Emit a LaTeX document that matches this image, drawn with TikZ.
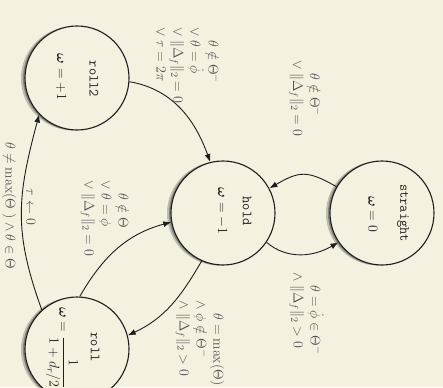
\RequirePackage{fix-cm}
\documentclass[tikz,border=0pt]{standalone}
\usepackage{amsmath,amssymb,bm}
\usetikzlibrary{arrows.meta}
\definecolor{paper}{RGB}{244,241,224}
\definecolor{ink}{RGB}{30,30,30}
\definecolor{note}{RGB}{80,80,80}
\begin{document}
\begin{tikzpicture}[x=1pt,y=1pt,
  state/.style={circle, draw=ink, line width=1.1pt, fill=paper,
    minimum size=104pt, inner sep=0pt},
  statename/.style={rotate=-90, text=ink, inner sep=0pt,
    font=\fontsize{14}{17}\selectfont\ttfamily},
  stateval/.style={rotate=-90, text=ink, inner sep=0pt,
    font=\fontsize{14}{17}\selectfont},
  guard/.style={rotate=-90, text=note, inner sep=0pt,
    font=\fontsize{14}{17}\selectfont},
  edgearrow/.style={draw=ink, line width=0.9pt,
    -{Latex[length=8pt,width=6pt]}},
]
\fill[paper] (0,0) rectangle (443,-387);
\useasboundingbox (0,0) rectangle (443,-387);

% soft shadows to the left of each state
\foreach \c in {(77,-78),(223,-213),(382,-213),(77,-349)} {
  \fill[black, opacity=0.22] \c ++(-4,-0.5) circle (52);
  \fill[black, opacity=0.30] \c ++(-2,-0.3) circle (52);
}

% states
\node[state] (roll2)    at (77,-78)   {};
\node[state] (hold)     at (223,-213) {};
\node[state] (straight) at (382,-213) {};
\node[state] (roll)     at (77,-349)  {};

\node[statename] (roll2-n)    at (94,-79)   {roll2};
\node[stateval]  (roll2-v)    at (61,-77)   {$\bm{\omega}=+1$};
\node[statename] (hold-n)     at (247,-211) {hold};
\node[stateval]  (hold-v)     at (222,-211) {$\bm{\omega}=-1$};
\node[statename] (straight-n) at (403,-213) {straight};
\node[stateval]  (straight-v) at (373,-214) {$\bm{\omega}=0$};
\node[statename] (roll-n)     at (95,-347)  {roll};
\node[stateval]  (roll-v)     at (62,-348)  {$\bm{\omega}=\dfrac{1}{1+d_r/2}$};

% transitions
\draw[edgearrow] (roll2.-4)    to[out=-10,in=110] (hold.104);
\draw[edgearrow] (straight.150) to[out=150,in=30,looseness=1.3] (hold.28);
\draw[edgearrow] (hold.-34)    to[out=-40,in=-150] (straight.-146);
\draw[edgearrow] (hold.-114)   to[out=-120,in=25] (roll.15);
\draw[edgearrow] (roll.87)     to[out=60,in=195] (hold.190);
\draw[edgearrow] (roll.132)    to[out=110,in=-105,looseness=1.1] (roll2.-136);

% guards
\node[guard, anchor=west] (g-roll2-hold) at (186,-27)
  {$\begin{array}{@{}l@{\;}l@{}}
      & \theta\notin\Theta^- \\
    \vee & \theta=\dot{\phi} \\
    \vee & \|\Delta_f\|_2=0 \\
    \vee & \tau=2\pi
  \end{array}$};
\node[guard, anchor=west] (g-straight-hold) at (305,-60)
  {$\begin{array}{@{}l@{\;}l@{}}
      & \theta\notin\Theta^- \\
    \vee & \|\Delta_f\|_2=0
  \end{array}$};
\node[guard, anchor=west] (g-hold-straight) at (306,-272)
  {$\begin{array}{@{}l@{\;}l@{}}
      & \theta=\dot{\phi}\in\Theta^- \\
    \wedge & \|\Delta_f\|_2>0
  \end{array}$};
\node[guard, anchor=west] (g-hold-roll) at (200,-300)
  {$\begin{array}{@{}l@{\;}l@{}}
      & \theta=\max(\Theta) \\
    \wedge & \phi\notin\Theta^- \\
    \wedge & \|\Delta_f\|_2>0
  \end{array}$};
\node[guard, anchor=west] (g-roll-hold) at (105,-180)
  {$\begin{array}{@{}l@{\;}l@{}}
      & \theta\notin\Theta \\
    \vee & \theta=\phi \\
    \vee & \|\Delta_f\|_2=0
  \end{array}$};
\node[guard] (g-roll-roll2) at (9,-206)
  {$\theta\neq\max(\Theta\ )\wedge\theta\in\Theta$};
\node[guard] (a-roll-roll2) at (31,-207) {$\tau\leftarrow0$};
\end{tikzpicture}
\end{document}
